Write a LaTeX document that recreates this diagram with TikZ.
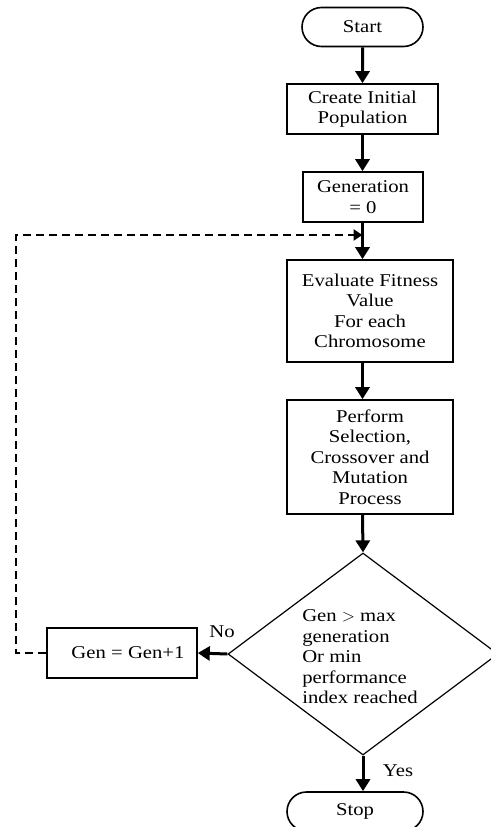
\documentclass[tikz,border=0pt]{standalone}
\usepackage{fontspec}
\setmainfont{Liberation Serif}[FakeStretch=1.15]
\usetikzlibrary{shapes.geometric,shapes.misc,arrows.meta}

\begin{document}
\begin{tikzpicture}[x=1pt,y=-1pt,
  font=\fontsize{18}{20.5}\selectfont,
  terminal/.style={draw,line width=1.6pt,rounded rectangle,inner sep=0pt,minimum height=39pt},
  process/.style={draw,line width=1.6pt,rectangle,inner sep=0pt,align=center},
  decision/.style={draw,line width=1.2pt,diamond,inner sep=0pt,minimum width=270pt,minimum height=202pt},
  flow/.style={line width=3pt,-{Triangle[width=14pt,length=12pt]}},
  back/.style={line width=2.4pt,dash pattern=on 8pt off 5pt,-{Triangle[width=11pt,length=9pt]}}]
\useasboundingbox (0,0) rectangle (490,827);
  % boxes
\node[terminal,minimum width=121pt] (start) at (362.5,27) {Start};
\node[process,minimum width=151pt,minimum height=50pt] (init) at (362.5,109) {Create Initial\\ Population};
\node[process,minimum width=120pt,minimum height=50pt] (gen0) at (363,197) {Generation\\ = 0};
\node[process,minimum width=166pt,minimum height=102pt] (eval) at (370,311) {Evaluate Fitness\\ Value\\ For each\\ Chromosome};
\node[process,minimum width=166pt,minimum height=114pt] (ops) at (370,457) {Perform\\ Selection,\\ Crossover and\\ Mutation\\ Process};
\node[decision] (check) at (363,654) {};
\node[align=left,inner sep=0pt] (checktxt) at (360,657) {Gen $>$ max\\ generation\\ Or min\\ performance\\ index reached};
\node[process,minimum width=150pt,minimum height=50pt] (inc) at (122,653) {\hspace*{12pt}Gen = Gen+1};
\node[terminal,minimum width=136pt] (stop) at (355,811.5) {Stop};
  % labels
\node (no) at (222,632) {No};
\node (yes) at (398,771) {Yes};
  % arrows
\coordinate (loopA) at (16,653);
\coordinate (loopB) at (16,235);
\coordinate (join) at (362.5,235);
\draw[flow] (start) -- (init);
\draw[flow] (init) -- (init|-gen0.north);
\draw[flow] (init|-gen0.south) -- (init|-eval.north);
\draw[flow] (init|-eval.south) -- (init|-ops.north);
\draw[flow] (init|-ops.south) -- (check.north);
\draw[flow] (check.west) -- (inc.east);
\draw[flow] (check.south) -- (check.south|-stop.north);
\draw[back] (inc.west) -- (loopA) -- (loopB) -- (join);
\end{tikzpicture}
\end{document}
